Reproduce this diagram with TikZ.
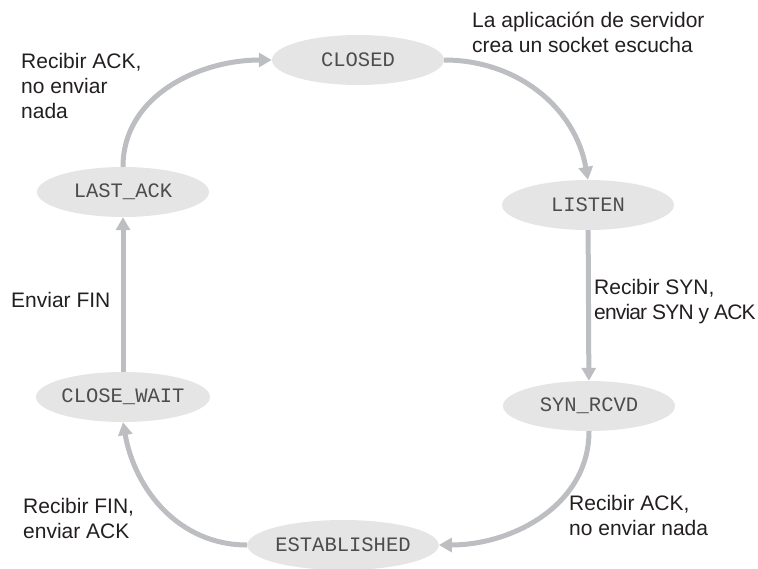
\documentclass[tikz,border=0pt]{standalone}
\usepackage{fontspec}
\setmainfont{Liberation Sans}
\setmonofont{Liberation Mono}
\usetikzlibrary{shapes.geometric, arrows.meta, positioning}
\definecolor{arrowgray}{RGB}{188,190,193}
\definecolor{stategray}{RGB}{229,229,229}
\definecolor{textdark}{RGB}{35,31,32}
\tikzset{
    state/.style={ellipse, fill=stategray, minimum width=172pt, minimum height=50pt, inner sep=0pt,
        text=black!70, font=\ttfamily\fontsize{20.5}{24}\selectfont},
    arrow/.style={-{Triangle[width=14pt,length=13pt]}, line width=5pt, arrowgray},
    lbl/.style={anchor=north west, inner sep=0pt, align=left, text=textdark,
        font=\fontsize{21}{25}\selectfont}
}

\begin{document}
\begin{tikzpicture}[x=1pt, y=-1pt]
        \useasboundingbox (0,0) rectangle (758,568);
        \node [state] (closed) at (358,60) {CLOSED};
        \node [state] (listen) at (588,205) {LISTEN};
        \node [state] (synrcvd) at (589,406) {SYN\_RCVD};
        \node [state] (estab) at (343,545) {ESTABLISHED};
        \node [state] (closewait) at (123,397) {CLOSE\_WAIT};
        \node [state] (lastack) at (123,192) {LAST\_ACK};

        \node [lbl] (lblopen) at (472,12) {La aplicación de servidor\\crea un socket escucha};
        \node [lbl] (lblsyn) at (594,279) {Recibir SYN,\\{\addfontfeature{LetterSpace=-4}enviar SYN y ACK}};
        \node [lbl] (lblack) at (569,495) {Recibir ACK,\\no enviar nada};
        \node [lbl] (lblfin) at (23,498) {Recibir FIN,\\enviar ACK};
        \node [lbl] (lblsend) at (11,292) {Enviar FIN};
        \node [lbl] (lbllast) at (21,53) {Recibir ACK,\\no enviar\\nada};

        \draw [arrow] (closed.east) to[out=0, in=100] (listen.north);
        \draw [arrow] (listen) -- (synrcvd);
        \draw [arrow] (synrcvd.south) to[out=-90, in=0] (estab.east);
        \draw [arrow] (estab.west) to[out=180, in=-80] (closewait.south);
        \draw [arrow] (closewait) -- (lastack);
        \draw [arrow] (lastack.north) to[out=90, in=180] (closed.west);
    \end{tikzpicture}
\end{document}
